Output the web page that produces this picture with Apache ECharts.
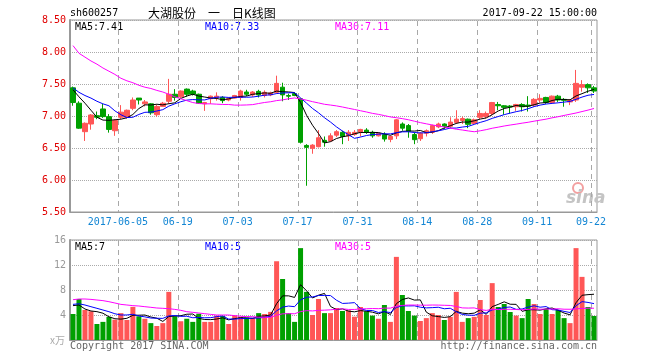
<!DOCTYPE html>
<html><head><meta charset="utf-8">
<script src="https://cdn.jsdelivr.net/npm/echarts@6/dist/echarts.min.js"></script>
<style>html,body{margin:0;padding:0;background:#fff}#c{width:660px;height:360px}</style>
</head><body><div id="c"></div>
<script>
const dates = [
'2017-05-22','2017-05-23','2017-05-24','2017-05-25','2017-05-26','2017-05-31','2017-06-01','2017-06-02',
'2017-06-05','2017-06-06','2017-06-07','2017-06-08','2017-06-09',
'2017-06-12','2017-06-13','2017-06-14','2017-06-15','2017-06-16',
'2017-06-19','2017-06-20','2017-06-21','2017-06-22','2017-06-23',
'2017-06-26','2017-06-27','2017-06-28','2017-06-29','2017-06-30',
'2017-07-03','2017-07-04','2017-07-05','2017-07-06','2017-07-07',
'2017-07-10','2017-07-11','2017-07-12','2017-07-13','2017-07-14',
'2017-07-17','2017-07-18','2017-07-19','2017-07-20','2017-07-21',
'2017-07-24','2017-07-25','2017-07-26','2017-07-27','2017-07-28',
'2017-07-31','2017-08-01','2017-08-02','2017-08-03','2017-08-04',
'2017-08-07','2017-08-08','2017-08-09','2017-08-10','2017-08-11',
'2017-08-14','2017-08-15','2017-08-16','2017-08-17','2017-08-18',
'2017-08-21','2017-08-22','2017-08-23','2017-08-24','2017-08-25',
'2017-08-28','2017-08-29','2017-08-30','2017-08-31','2017-09-01',
'2017-09-04','2017-09-05','2017-09-06','2017-09-07','2017-09-08',
'2017-09-11','2017-09-12','2017-09-13','2017-09-14','2017-09-15',
'2017-09-18','2017-09-19','2017-09-20','2017-09-21','2017-09-22'];

const tickDates = ['2017-06-05','2017-06-19','2017-07-03','2017-07-17','2017-07-31','2017-08-14','2017-08-28','2017-09-11','2017-09-22'];
const priceRange = [5.5, 8.5, 0.5];   // min, max, interval
const volRange = [0, 16, 4];

const opens = [7.44,7.20,6.755,6.875,7.005,7.11,6.99,6.77,6.98,6.98,
7.12,7.28,7.19,7.19,7.02,7.15,7.23,7.34,7.30,7.42,
7.39,7.34,7.19,7.27,7.29,7.29,7.25,7.28,7.29,7.375,
7.33,7.385,7.32,7.33,7.37,7.45,7.32,7.35,7.27,6.54,
6.495,6.52,6.62,6.61,6.70,6.745,6.69,6.71,6.745,6.78,
6.745,6.69,6.71,6.635,6.69,6.875,6.85,6.71,6.645,6.73,
6.745,6.83,6.875,6.84,6.90,6.93,6.95,6.885,6.98,6.99,
7.04,7.18,7.16,7.155,7.145,7.18,7.17,7.17,7.25,7.29,
7.21,7.31,7.26,7.22,7.25,7.45,7.49,7.44];
const closes = [7.21,6.81,6.886,7.016,6.98,6.99,6.79,6.93,7.06,7.09,
7.25,7.25,7.22,7.05,7.15,7.20,7.34,7.29,7.39,7.34,
7.34,7.20,7.21,7.31,7.31,7.24,7.27,7.32,7.39,7.34,
7.375,7.33,7.37,7.36,7.51,7.33,7.31,7.32,6.59,6.51,
6.545,6.66,6.59,6.69,6.755,6.68,6.745,6.745,6.79,6.75,
6.69,6.73,6.64,6.68,6.94,6.81,6.76,6.63,6.73,6.77,
6.85,6.875,6.84,6.905,6.95,6.96,6.87,6.94,7.04,7.04,
7.21,7.16,7.135,7.14,7.18,7.145,7.155,7.26,7.275,7.21,
7.31,7.25,7.245,7.25,7.51,7.49,7.44,7.39];
const lows = [7.16,6.80,6.61,6.786,6.95,6.97,6.74,6.69,6.95,6.96,
7.09,7.18,7.15,7.02,6.99,7.14,7.19,7.24,7.28,7.30,
7.32,7.19,7.08,7.19,7.24,7.20,7.23,7.27,7.24,7.31,
7.30,7.29,7.29,7.31,7.35,7.23,7.25,7.31,6.57,5.91,
6.41,6.51,6.52,6.60,6.67,6.56,6.61,6.69,6.68,6.72,
6.66,6.68,6.60,6.59,6.64,6.77,6.66,6.56,6.61,6.68,
6.72,6.81,6.80,6.81,6.875,6.875,6.81,6.87,6.95,6.96,
7.01,7.09,7.02,7.04,7.08,7.07,7.07,7.145,7.21,7.19,
7.20,7.22,7.145,7.17,7.22,7.38,7.36,7.36];
const highs = [7.46,7.23,6.90,7.03,7.07,7.19,7.03,6.95,7.17,7.10,
7.29,7.28,7.25,7.20,7.18,7.22,7.58,7.42,7.40,7.43,
7.41,7.35,7.22,7.32,7.37,7.31,7.29,7.33,7.41,7.41,
7.39,7.41,7.40,7.38,7.63,7.52,7.35,7.36,7.28,6.56,
6.56,6.78,6.68,6.73,6.78,6.77,6.78,6.78,6.80,6.81,
6.77,6.74,6.745,6.69,6.95,6.90,6.875,6.745,6.75,6.79,
6.865,6.896,6.885,6.98,7.09,6.99,6.96,6.96,7.09,7.07,
7.22,7.22,7.17,7.17,7.19,7.20,7.31,7.28,7.34,7.30,
7.32,7.33,7.28,7.26,7.72,7.56,7.51,7.47];
const volumes = [4.16,6.56,4.8,4.6,2.56,2.9,3.7,3.25,4.3,3.2,
5.3,3.8,3.4,2.7,2.24,2.7,7.7,3.8,3.0,3.4,
2.9,4.2,2.9,2.9,3.9,3.85,2.56,3.9,3.7,3.6,
3.5,4.3,4.16,4.5,12.6,9.76,4.3,2.9,14.7,7.7,
4.0,6.56,4.3,4.3,5.12,4.64,4.75,3.73,5.28,4.6,
3.9,3.4,5.6,2.9,13.3,7.2,4.64,3.9,3.04,3.5,
4.3,4.0,3.2,3.7,7.7,2.9,3.5,3.7,6.4,4.0,
9.1,5.28,5.76,4.48,3.9,3.5,6.56,5.76,4.16,4.96,
4.16,4.8,3.5,2.7,14.7,10.1,5.28,3.84];

// moving-average values before enough visible days exist
const priceMa5Head = [7.41,7.30,7.20,7.09];
const priceMa10Head = [7.44,7.37,7.32,7.28,7.23,7.19,7.16,7.08,7.02];
const priceMa30Head = [8.10,7.98,7.92,7.86,7.81,7.75,7.70,7.65,7.59,7.55,7.52,7.48,7.45,7.43,7.40,7.375,7.34,7.30,7.27,7.24,7.21,7.195,7.19,7.19,7.185,7.18,7.18,7.17,7.17];
const volMa5Head = [5.5,5.6,4.96,4.64];
const volMa10Head = [5.7,5.8,5.6,5.33,5.07,4.8,4.53,4.2,4.0];
const volMa30Head = [6.45,6.56,6.56,6.5,6.4,6.3,6.13,5.92,5.7,5.6,5.5,5.44,5.33,5.23,5.12,5.07,5.01,4.9,4.75,4.53,4.43,4.32,4.21,4.1,4.0,4.0,4.0,3.9,3.8];

const legendPrice = ['MA5:7.41','MA10:7.33','MA30:7.11'];
const legendVol = ['MA5:7','MA10:5','MA30:5'];

function movingAvg(arr, n, head) {
  return arr.map((v, i) => {
    if (i < n - 1) return head[i];
    let s = 0;
    for (let k = i - n + 1; k <= i; k++) s += arr[k];
    return +(s / n).toFixed(4);
  });
}

const RED = '#ff5656', GREEN = '#00a000';
const MONO = '"DejaVu Sans Mono", "Liberation Mono", monospace';
const candleData = opens.map((o, i) => [o, closes[i], lows[i], highs[i]]);
const volData = volumes.map((v, i) => ({value: v, itemStyle: {color: closes[i] >= opens[i] ? RED : GREEN}}));
const tickIdx = tickDates.map(d => dates.indexOf(d));
const showTick = (idx) => tickIdx.indexOf(idx) >= 0;

const chart = echarts.init(document.getElementById('c'), null, {renderer: 'canvas'});

function lineSeries(name, data, color, xi) {
  return {name, type: 'line', data, xAxisIndex: xi, yAxisIndex: xi, showSymbol: false, symbol: 'none',
    lineStyle: {color, width: 1}, itemStyle: {color}, silent: true, z: 3};
}

function txt(text, x, y, color, extra) {
  return Object.assign({type: 'text', x, y, silent: true, style: Object.assign({
    text, fill: color, font: '10px ' + MONO, textAlign: 'left', textVerticalAlign: 'middle',
    align: 'left', verticalAlign: 'middle'}, extra || {})});
}

const staticGraphics = [
  txt('sh600257', 70, 13, '#000'),
  txt('大湖股份\u3000一\u3000日K线图', 148, 13, '#000', {font: '12px "Noto Sans CJK SC", sans-serif'}),
  txt('2017-09-22 15:00:00', 597, 13, '#000', {textAlign: 'right', align: 'right'}),
  txt(legendPrice[0], 75, 27, '#000'),
  txt(legendPrice[1], 205, 27, '#0000ff'),
  txt(legendPrice[2], 335, 27, '#ff00ff'),
  txt(legendVol[0], 75, 247, '#000'),
  txt(legendVol[1], 205, 247, '#0000ff'),
  txt(legendVol[2], 335, 247, '#ff00ff'),
  txt('x万', 50, 340, '#aaa', {font: '10px "Noto Sans CJK SC", sans-serif'}),
  txt('Copyright 2017 SINA.COM', 70, 346, '#666'),
  txt('http://finance.sina.com.cn', 597, 346, '#666', {textAlign: 'right', align: 'right'}),
  {type: 'circle', shape: {cx: 578, cy: 188, r: 5}, silent: true, style: {fill: 'none', stroke: '#f3a0a0', lineWidth: 2}},
  txt('sina', 566, 199, '#c4c4c4', {font: 'italic bold 17px "DejaVu Sans", sans-serif'})
];

chart.setOption({
  animation: false,
  backgroundColor: '#fff',
  grid: [
    {left: 70, top: 20, width: 527, height: 192, show: true, borderColor: '#999', borderWidth: 1, containLabel: false},
    {left: 70, top: 240, width: 527, height: 100, show: true, borderColor: '#999', borderWidth: 1, containLabel: false}
  ],
  xAxis: [
    {type: 'category', data: dates, gridIndex: 0, boundaryGap: true,
     axisLine: {lineStyle: {color: '#999'}}, axisTick: {show: false},
     axisLabel: {interval: showTick, color: '#1386d4', fontSize: 10, fontFamily: MONO, margin: 5,
       padding: [0, 6, 0, 0],
       formatter: (v) => v === '2017-06-05' ? v : v.slice(5)},
     splitLine: {show: false}},
    {type: 'category', data: dates, gridIndex: 1, boundaryGap: true,
     axisLine: {lineStyle: {color: '#999'}}, axisTick: {show: false}, axisLabel: {show: false},
     splitLine: {show: false}}
  ],
  yAxis: [
    {type: 'value', gridIndex: 0, min: priceRange[0], max: priceRange[1], interval: priceRange[2],
     axisLine: {show: true, lineStyle: {color: '#999', width: 2}}, axisTick: {show: false},
     axisLabel: {color: '#e00000', fontSize: 10, fontFamily: MONO, margin: 4, formatter: (v) => v.toFixed(2)},
     splitLine: {show: true, lineStyle: {color: '#aaa', type: 'dotted'}}},
    {type: 'value', gridIndex: 1, min: volRange[0], max: volRange[1], interval: volRange[2],
     axisLine: {show: true, lineStyle: {color: '#999', width: 2}}, axisTick: {show: false},
     axisLabel: {color: '#999', fontSize: 10, fontFamily: MONO, margin: 4, formatter: (v) => v === 0 ? '' : String(v)},
     splitLine: {show: true, lineStyle: {color: '#aaa', type: 'dotted'}}}
  ],
  series: [
    {type: 'candlestick', data: candleData, xAxisIndex: 0, yAxisIndex: 0, barWidth: 5,
     itemStyle: {color: RED, color0: GREEN, borderColor: RED, borderColor0: GREEN, borderWidth: 1}, z: 2},
    lineSeries('MA5', movingAvg(closes, 5, priceMa5Head), '#000', 0),
    lineSeries('MA10', movingAvg(closes, 10, priceMa10Head), '#0000ff', 0),
    lineSeries('MA30', movingAvg(closes, 30, priceMa30Head), '#ff00ff', 0),
    {type: 'bar', data: volData, xAxisIndex: 1, yAxisIndex: 1, barWidth: 5, z: 2},
    lineSeries('VMA5', movingAvg(volumes, 5, volMa5Head), '#000', 1),
    lineSeries('VMA10', movingAvg(volumes, 10, volMa10Head), '#0000ff', 1),
    lineSeries('VMA30', movingAvg(volumes, 30, volMa30Head), '#ff00ff', 1)
  ],
  graphic: staticGraphics
});

// vertical dashed guides at the left boundary of each tick day's band, located through the axes' own scales;
// dashes are drawn as short solid rectangles
function guideLines(xi, yi, range) {
  const out = [];
  const c0 = chart.convertToPixel({xAxisIndex: xi}, dates[0]);
  const c1 = chart.convertToPixel({xAxisIndex: xi}, dates[1]);
  const half = (c1 - c0) / 2;
  const yTop = chart.convertToPixel({yAxisIndex: yi}, range[1]);
  const yBot = chart.convertToPixel({yAxisIndex: yi}, range[0]);
  tickDates.forEach(d => {
    const x = Math.round(chart.convertToPixel({xAxisIndex: xi}, d) - half);
    for (let y = yTop + 1; y < yBot; y += 9) {
      out.push({type: 'rect', silent: true, z: 1,
        shape: {x: x, y: y, width: 1, height: Math.min(5, yBot - y)},
        style: {fill: '#a8a8a8'}});
    }
  });
  return out;
}
chart.setOption({graphic: staticGraphics.concat(guideLines(0, 0, priceRange), guideLines(1, 1, volRange))});
</script></body></html>
